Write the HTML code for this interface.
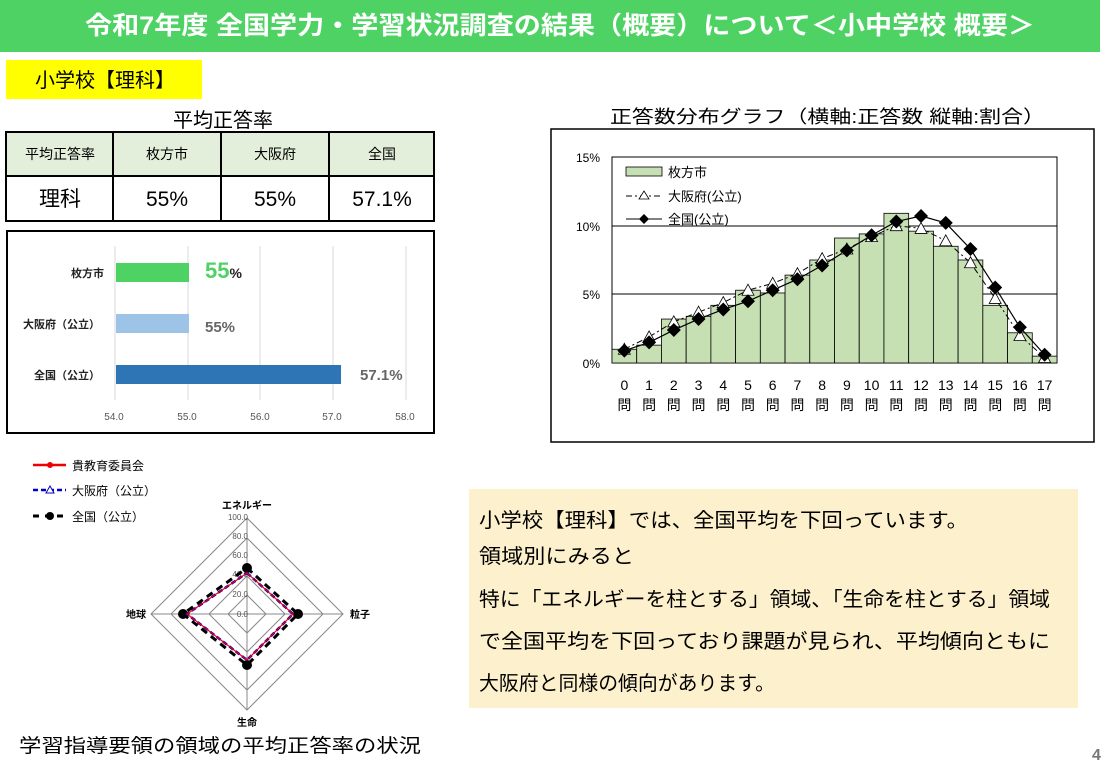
<!DOCTYPE html>
<html><head><meta charset="utf-8"><style>
body{margin:0;width:1109px;height:764px;background:#fff;position:relative;overflow:hidden;font-family:"Liberation Sans","Noto Sans CJK JP",sans-serif;}
</style></head><body>
<svg width="1109" height="764" viewBox="0 0 1109 764" xmlns="http://www.w3.org/2000/svg" style="position:absolute;left:0;top:0;font-family:'Liberation Sans','Noto Sans CJK JP',sans-serif">
<rect x="0" y="0" width="1100" height="52" fill="#4fd264"/>
<text x="85" y="34" font-size="25" font-weight="bold" fill="#fff" textLength="950" lengthAdjust="spacingAndGlyphs">令和7年度 全国学力・学習状況調査の結果（概要）について＜小中学校 概要＞</text>
<rect x="6" y="60" width="196" height="39" fill="#ffff00"/>
<text x="35" y="87" font-size="20" fill="#000">小学校【理科】</text>
<text x="223" y="127" text-anchor="middle" font-size="20" fill="#000">平均正答率</text>
<rect x="6" y="132" width="428" height="44" fill="#e3efda"/>
<g stroke="#000" stroke-width="2" fill="none">
<rect x="6" y="132" width="428" height="89"/><line x1="6" y1="176" x2="434" y2="176"/>
<line x1="113" y1="132" x2="113" y2="221"/><line x1="221" y1="132" x2="221" y2="221"/><line x1="329" y1="132" x2="329" y2="221"/></g>
<g font-size="14" text-anchor="middle"><text x="60" y="159">平均正答率</text><text x="167" y="159">枚方市</text><text x="275" y="159">大阪府</text><text x="382" y="159">全国</text></g>
<g font-size="21" text-anchor="middle"><text x="60" y="206">理科</text><text x="167" y="206">55%</text><text x="275" y="206">55%</text><text x="382" y="206">57.1%</text></g>
<rect x="7" y="231" width="427" height="202" fill="none" stroke="#000" stroke-width="2"/>
<g stroke="#d9d9d9"><line x1="115" y1="246" x2="115" y2="400"/><line x1="188" y1="246" x2="188" y2="400"/><line x1="260" y1="246" x2="260" y2="400"/><line x1="333" y1="246" x2="333" y2="400"/><line x1="406" y1="246" x2="406" y2="400"/></g>
<rect x="116" y="263" width="73" height="19" fill="#4fd264"/>
<rect x="116" y="314" width="73" height="19" fill="#9dc3e6"/>
<rect x="116" y="365" width="225" height="19" fill="#2e75b6"/>
<g font-size="11" font-weight="bold" text-anchor="end" fill="#222"><text x="104" y="277">枚方市</text><text x="100" y="328">大阪府（公立）</text><text x="100" y="379">全国（公立）</text></g>
<text x="205" y="278" font-size="22" font-weight="bold" fill="#4fd264">55<tspan font-size="14" fill="#222">%</tspan></text>
<text x="205" y="332" font-size="15" font-weight="bold" fill="#666">55%</text>
<text x="360" y="380" font-size="15" font-weight="bold" fill="#666">57.1%</text>
<g font-size="10" fill="#555" text-anchor="middle"><text x="114" y="420">54.0</text><text x="187" y="420">55.0</text><text x="260" y="420">56.0</text><text x="332" y="420">57.0</text><text x="405" y="420">58.0</text></g>
<text x="610" y="123" font-size="18" textLength="435" lengthAdjust="spacingAndGlyphs">正答数分布グラフ（横軸:正答数 縦軸:割合）</text>
<rect x="551" y="129" width="543" height="313" fill="none" stroke="#000" stroke-width="1.5"/>
<rect x="612" y="157" width="445" height="206" fill="none" stroke="#000" stroke-width="1"/>
<line x1="612" y1="226" x2="1057" y2="226" stroke="#000"/><line x1="612" y1="294" x2="1057" y2="294" stroke="#000"/>
<g font-size="12" text-anchor="end"><text x="600" y="162">15%</text><text x="600" y="231">10%</text><text x="600" y="299">5%</text><text x="600" y="368">0%</text></g>
<g id="bars" fill="#c6e0b4" stroke="#000" stroke-width="0.8"></g>
<polyline id="osaka" fill="none" stroke="#000" stroke-dasharray="6,3,2,3" stroke-width="1"/>
<polyline id="nat" fill="none" stroke="#000" stroke-width="1.2"/>
<g id="mk"></g>
<g id="xl" font-size="14" text-anchor="middle"></g>
<rect x="626" y="167" width="36" height="9" fill="#c6e0b4" stroke="#000" stroke-width="0.8"/>
<text x="668" y="177" font-size="13">枚方市</text>
<line x1="626" y1="196" x2="662" y2="196" stroke="#000" stroke-dasharray="6,3,2,3"/>
<polygon points="644,191 649,199 639,199" fill="#fff" stroke="#000" stroke-width="0.8"/>
<text x="668" y="201" font-size="13">大阪府(公立)</text>
<line x1="626" y1="219" x2="662" y2="219" stroke="#000"/>
<polygon points="644,214 649,219 644,224 639,219" fill="#000"/>
<text x="668" y="224" font-size="13">全国(公立)</text>
<g font-size="12"><line x1="33" y1="465" x2="66" y2="465" stroke="#e00" stroke-width="2.5"/><circle cx="50" cy="465" r="3" fill="#e00"/><text x="72" y="470">貴教育委員会</text>
<line x1="33" y1="490" x2="66" y2="490" stroke="#00c" stroke-width="2.5" stroke-dasharray="5,3"/><polygon points="50,486 54,493 46,493" fill="#fff" stroke="#00c"/><text x="72" y="495">大阪府（公立）</text>
<line x1="33" y1="516" x2="66" y2="516" stroke="#000" stroke-width="3" stroke-dasharray="6,6"/><circle cx="50" cy="516" r="4" fill="#000"/><text x="72" y="521">全国（公立）</text></g>
<g fill="none" stroke="#888" stroke-width="1">
<polygon points="247,518 343,614 247,710 151,614"/><polygon points="247,538 323,614 247,690 171,614"/>
<polygon points="247,576 285,614 247,652 209,614"/><polygon points="247,595 266,614 247,633 228,614"/>
<line x1="247" y1="518" x2="247" y2="710"/><line x1="151" y1="614" x2="343" y2="614"/></g>
<g font-size="8" fill="#555" text-anchor="end"><text x="248" y="520">100.0</text><text x="248" y="539">80.0</text><text x="248" y="558">60.0</text><text x="248" y="577">40.0</text><text x="248" y="597">20.0</text><text x="248" y="617">0.0</text></g>
<g font-size="10" font-weight="bold"><text x="247" y="509" text-anchor="middle">エネルギー</text><text x="350" y="618">粒子</text><text x="146" y="618" text-anchor="end">地球</text><text x="247" y="726" text-anchor="middle">生命</text></g>
<polygon points="247,568 298,614 247,665 183,614" fill="none" stroke="#000" stroke-width="3" stroke-dasharray="7,5"/>
<g fill="#000"><circle cx="247" cy="568" r="5"/><circle cx="298" cy="614" r="5"/><circle cx="247" cy="665" r="5"/><circle cx="183" cy="614" r="5"/></g>
<polygon points="247,573 293,614 247,660 187,614" fill="none" stroke="#00c" stroke-width="2.5" stroke-dasharray="5,3"/>
<polygon points="247,573 293,614 247,660 187,614" fill="none" stroke="#e00" stroke-width="1.2"/>
<text x="19" y="752" font-size="19" textLength="402" lengthAdjust="spacingAndGlyphs">学習指導要領の領域の平均正答率の状況</text>
<rect x="469" y="489" width="609" height="219" fill="#fdf0cc"/>
<g font-size="20"><text x="479" y="527" textLength="489" lengthAdjust="spacingAndGlyphs">小学校【理科】では、全国平均を下回っています。</text>
<text x="479" y="563" textLength="155" lengthAdjust="spacingAndGlyphs">領域別にみると</text>
<text x="479" y="606" textLength="571" lengthAdjust="spacingAndGlyphs">特に「エネルギーを柱とする」領域、「生命を柱とする」領域</text>
<text x="479" y="648" textLength="571" lengthAdjust="spacingAndGlyphs">で全国平均を下回っており課題が見られ、平均傾向ともに</text>
<text x="479" y="690" textLength="296" lengthAdjust="spacingAndGlyphs">大阪府と同様の傾向があります。</text></g>
<text x="1092" y="760" font-size="16" font-weight="bold" fill="#777">4</text>
</svg>
<script>
var h=[1.0,1.3,3.2,3.4,4.2,5.3,5.1,6.4,7.5,9.1,9.4,10.9,9.6,8.5,7.5,4.2,2.2,0.5];
var o=[1.0,1.9,3.0,3.7,4.4,5.3,5.8,6.5,7.6,8.3,9.2,10.0,9.8,8.9,7.3,4.7,2.0,0.4];
var n=[0.9,1.5,2.4,3.2,3.9,4.5,5.3,6.1,7.1,8.2,9.3,10.3,10.7,10.2,8.3,5.5,2.6,0.6];
var x0=612,w=445/18,y0=363,k=206/15,ns="http://www.w3.org/2000/svg";
var b=document.getElementById('bars'),m=document.getElementById('mk'),xl=document.getElementById('xl');
var po=[],pn=[];
function el(t,a,p){var e=document.createElementNS(ns,t);for(var q in a)e.setAttribute(q,a[q]);p.appendChild(e);return e;}
for(var i=0;i<18;i++){var cx=x0+w*i+w/2;
el('rect',{x:x0+w*i,y:y0-h[i]*k,width:w,height:h[i]*k},b);
po.push(cx+','+(y0-o[i]*k));pn.push(cx+','+(y0-n[i]*k));
var t=el('text',{x:cx,y:390},xl);t.textContent=String(i);
var t2=el('text',{x:cx,y:410},xl);t2.textContent='問';}
document.getElementById('osaka').setAttribute('points',po.join(' '));
document.getElementById('nat').setAttribute('points',pn.join(' '));
for(var i=0;i<18;i++){var cx=x0+w*i+w/2,yo=y0-o[i]*k,yn=y0-n[i]*k;
el('polygon',{points:cx+','+(yo-6)+' '+(cx+6)+','+(yo+5)+' '+(cx-6)+','+(yo+5),fill:'#fff',stroke:'#000','stroke-width':0.8},m);
el('polygon',{points:cx+','+(yn-7)+' '+(cx+7)+','+yn+' '+cx+','+(yn+7)+' '+(cx-7)+','+yn,fill:'#000'},m);}
</script>
</body></html>
